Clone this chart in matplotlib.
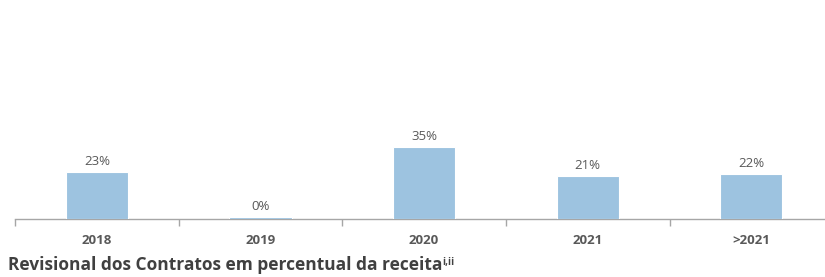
import matplotlib.pyplot as plt
import numpy as np

categories = ["2018", "2019", "2020", "2021", ">2021"]
values = [23, 0.8, 35, 21, 22]
labels = ["23%", "0%", "35%", "21%", "22%"]

BAR = "#9dc3e0"
GREY = "#595959"
AXIS = "#a6a6a6"
FONT = "Open Sans"


def main():
    fig = plt.figure(figsize=(8.25, 2.77), dpi=100)
    ax = fig.add_axes([15 / 825, 58 / 277, 810 / 825, 219 / 277])

    x = np.arange(len(categories))
    ax.bar(x, values, width=0.38, color=BAR, edgecolor="white", linewidth=0.8, zorder=3)
    for xi, v, lab in zip(x, values, labels):
        ax.annotate(lab, (xi, v), xytext=(0, 3), textcoords="offset points",
                    ha="center", va="bottom", fontsize=9.5, color=GREY, family=FONT)

    ax.set_xlim(-0.5, 4.45)
    ax.set_ylim(0, 107)
    for s in ["top", "right", "left"]:
        ax.spines[s].set_visible(False)
    ax.spines["bottom"].set_color(AXIS)
    ax.spines["bottom"].set_linewidth(1.0)
    ax.set_yticks([])

    ax.set_xticks(x)
    ax.set_xticklabels(categories, fontsize=9.5, fontweight="bold", color=GREY, family=FONT)
    ax.tick_params(axis="x", which="major", length=0, pad=11)
    ax.set_xticks(np.arange(len(categories)) - 0.5, minor=True)
    ax.tick_params(axis="x", which="minor", length=5, color=AXIS, width=1.0)

    t = fig.text(8 / 825, 1 - 265 / 277, "Revisional dos Contratos em percentual da receita",
                 fontsize=12.5, fontweight="bold", color="#404040", family=FONT,
                 va="center", ha="left")
    ax.annotate("i,ii", xy=(1, 0.95), xycoords=t, ha="left", va="top",
                fontsize=7, fontweight="bold", color="#404040", family=FONT,
                annotation_clip=False)

    fig.savefig("out.png", dpi=100)
    plt.close(fig)


if __name__ == "__main__":
    main()
